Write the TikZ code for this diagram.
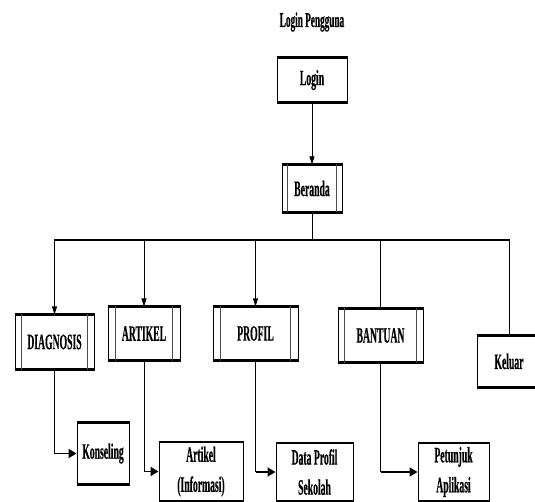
\documentclass[tikz,border=0pt]{standalone}
\usepackage{fontspec}
\newfontfamily\lbl[FakeStretch=0.44,FakeBold=0.4]{Liberation Serif}
\usetikzlibrary{arrows.meta}
\tikzset{
  box/.style={draw, line width=1pt, inner sep=0pt, align=center,
    font=\lbl\bfseries\fontsize{22}{30}\selectfont},
  drop/.style={line width=1pt, -{Triangle[length=8pt,width=5pt]}},
  elbow/.style={line width=1.8pt, -{Triangle[length=8pt,width=9pt]}},
  plain/.style={line width=1pt},
  bus/.style={line width=2pt},
  edge/.style={line width=2.2pt},
  bar/.style={line width=0.7pt, black!70}
}
\begin{document}
\begin{tikzpicture}[x=1pt,y=-1pt]
\useasboundingbox (0,0) rectangle (535,502);
\node[font=\lbl\bfseries\fontsize{21}{24}\selectfont] (title) at (312,22) {Login Pengguna};
\node[box, minimum width=70pt, minimum height=44pt] (login) at (312,80) {Login};
\node[box, minimum width=60pt, minimum height=47pt] (beranda) at (312,188.5) {Beranda};
\node[box, minimum width=79pt, minimum height=54pt] (diag) at (54.5,342) {DIAGNOSIS};
\node[box, minimum width=72pt, minimum height=53pt] (artikel) at (144,333.5) {ARTIKEL};
\node[box, minimum width=85pt, minimum height=53pt] (profil) at (255.5,333.5) {PROFIL};
\node[box, minimum width=85pt, minimum height=53pt] (bantuan) at (380.5,335.5) {BANTUAN};
\node[box, minimum width=64pt, minimum height=51pt] (keluar) at (509,361.5) {Keluar};
\node[box, minimum width=52pt, minimum height=61pt] (kons) at (103,453.5) {Konseling};
\node[box, minimum width=84pt, minimum height=58pt] (artinfo) at (201,471.5) {Artikel\\(Informasi)};
\node[box, minimum width=77pt, minimum height=57pt] (data) at (314.5,472) {Data Profil\\Sekolah};
\node[box, minimum width=71pt, minimum height=57pt] (petunjuk) at (453.5,472) {Petunjuk\\Aplikasi};
% thick top and bottom edges
\foreach \n in {login,beranda,diag,artikel,profil,bantuan,keluar,kons,artinfo,data,petunjuk}{
  \draw[edge] (\n.north west) -- (\n.north east);
  \draw[edge] (\n.south west) -- (\n.south east);
}
% inner bars
\foreach \n/\i in {beranda/6,diag/7,artikel/8,profil/8,bantuan/7}{
  \draw[bar] ([xshift=\i pt]\n.north west) -- ([xshift=\i pt]\n.south west);
  \draw[bar] ([xshift=-\i pt]\n.north east) -- ([xshift=-\i pt]\n.south east);
}
% connectors
\coordinate (bj) at (312,240.5);
\coordinate (b1) at (54.5,240.5);
\coordinate (b2) at (144,240.5);
\coordinate (b3) at (255.5,240.5);
\coordinate (b4) at (380.5,240.5);
\coordinate (b5) at (509,240.5);
\draw[drop] (login) -- (beranda);
\draw[plain] (beranda) -- (bj);
\draw[bus] ([xshift=-0.5pt]b1) -- ([xshift=0.5pt]b5);
\draw[drop] (b1) -- (diag);
\draw[drop] (b2) -- (artikel);
\draw[drop] (b3) -- (profil);
\draw[plain] (b4) -- (bantuan);
\draw[plain] (b5) -- (keluar);
\draw[plain] (diag.south) -- (diag.south |- kons.west);
\draw[elbow] (diag.south |- kons.west) -- (kons.west);
\draw[plain] (artikel.south) -- (artikel.south |- artinfo.west);
\draw[elbow] (artikel.south |- artinfo.west) -- (artinfo.west);
\draw[plain] (profil.south) -- (profil.south |- data.west);
\draw[elbow] (profil.south |- data.west) -- (data.west);
\draw[plain] (bantuan.south) -- (bantuan.south |- petunjuk.west);
\draw[elbow] (bantuan.south |- petunjuk.west) -- (petunjuk.west);
\end{tikzpicture}
\end{document}
